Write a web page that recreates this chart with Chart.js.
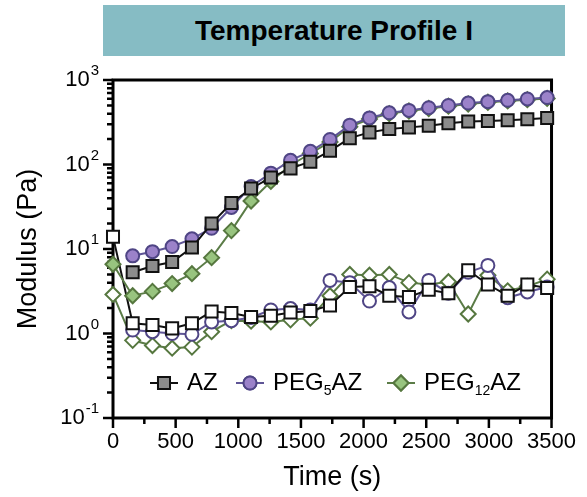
<!DOCTYPE html>
<html>
<head>
<meta charset="utf-8">
<script src="https://cdn.jsdelivr.net/npm/chart.js@4.4.1/dist/chart.umd.min.js"></script>
<style>
  body { margin: 0; background: #fff; }
  #wrap { position: relative; width: 587px; height: 497px; }
  #banner {
    position: absolute; left: 103px; top: 5px; width: 462px; height: 51px;
    background: #86bcc4; color: #000;
    font: bold 28px 'Liberation Sans', Arial, sans-serif;
    display: flex; align-items: center; justify-content: center;
  }
  canvas { position: absolute; left: 0; top: 0; }
</style>
</head>
<body>
<div id="wrap">
  <canvas id="chart" width="587" height="497"></canvas>
  <div id="banner">Temperature Profile I</div>
</div>
<script>
// time points (s)
const times = [0, 157, 315, 472, 630, 787, 945, 1102, 1260, 1417, 1575, 1732,
  1890, 2047, 2205, 2362, 2520, 2677, 2835, 2992, 3150, 3307, 3465];

// storage modulus G' (filled markers)
const azStorage = [null, 5.3, 6.3, 7.0, 10.4, 20, 35, 52, 70, 90, 108, 145,
  205, 240, 263, 275, 288, 308, 322, 328, 334, 344, 356];
const peg5Storage = [null, 8.3, 9.3, 10.7, 13.2, 17.6, 31, 55, 79, 112, 143, 198,
  292, 356, 409, 437, 470, 500, 534, 554, 575, 597, 620];
const peg12Storage = [6.6, 2.8, 3.15, 3.9, 5.1, 7.9, 16.5, 37, 63, 98, 135, 185,
  280, 345, 400, 430, 460, 490, 520, 545, 565, 585, 605];

// loss modulus G'' (open markers)
const azLoss = [14, 1.32, 1.26, 1.15, 1.32, 1.82, 1.75, 1.57, 1.62, 1.77, 1.85, 2.15,
  3.55, 3.62, 2.8, 2.7, 3.3, 3.0, 5.6, 3.8, 2.8, 3.8, 3.45];
const peg5Loss = [null, 1.1, 1.05, 1.0, 0.98, 1.37, 1.42, 1.55, 1.9, 1.97, 1.9, 4.25,
  4.0, 2.42, 3.5, 1.8, 4.25, 3.0, 5.3, 6.4, 2.65, 3.1, 3.55];
const peg12Loss = [2.9, 0.83, 0.72, 0.67, 0.69, 1.05, 1.42, 1.4, 1.37, 1.45, 1.52, 2.8,
  5.0, 4.9, 5.0, 4.0, 3.8, 4.1, 1.7, 4.9, 3.2, 3.6, 4.4];

const seriesNames = ['AZ', 'PEG₅AZ', 'PEG₁₂AZ'];
const legendLabels = [['AZ'], ['PEG', '5', 'AZ'], ['PEG', '12', 'AZ']];
const xTicks = [0, 500, 1000, 1500, 2000, 2500, 3000, 3500];
const yDecades = [0.1, 1, 10, 100, 1000];
const yExponents = ['-1', '0', '1', '2', '3'];

const FONT = "'Liberation Sans', Arial, sans-serif";
Chart.defaults.font.family = FONT;
Chart.defaults.color = '#000';

const styles = [
  { fill: '#8c8c8c', edge: '#111111', line: '#111111', point: 'rect', radius: 8.5 },
  { fill: '#9b82c9', edge: '#4f4585', line: '#5f5596', point: 'circle', radius: 6.5 },
  { fill: '#98c47f', edge: '#56773f', line: '#5b7c47', point: 'rectRot', radius: 7.5 }
];

function toPoints(vals) {
  return times.map((t, i) => ({ x: t, y: vals[i] }));
}

function makeSet(name, vals, st, open, order) {
  return {
    label: name,
    data: toPoints(vals),
    borderColor: st.line,
    borderWidth: 2,
    pointStyle: st.point,
    pointRadius: st.radius,
    pointBorderWidth: 2,
    pointBorderColor: st.edge,
    pointBackgroundColor: open ? '#ffffff' : st.fill,
    fill: false,
    tension: 0,
    clip: false,
    order: order
  };
}

const datasets = [
  makeSet(seriesNames[0], azStorage, styles[0], false, 1),
  makeSet(seriesNames[1], peg5Storage, styles[1], false, 2),
  makeSet(seriesNames[2], peg12Storage, styles[2], false, 3),
  makeSet(seriesNames[0] + ' G″', azLoss, styles[0], true, 4),
  makeSet(seriesNames[1] + ' G″', peg5Loss, styles[1], true, 5),
  makeSet(seriesNames[2] + ' G″', peg12Loss, styles[2], true, 6)
];

// frame, tick marks, y labels with exponents, legend
const axisDecor = {
  id: 'axisDecor',
  beforeDatasetsDraw(chart) {
    const { ctx, chartArea: a, scales: { x, y } } = chart;
    ctx.save();
    ctx.strokeStyle = '#000';
    ctx.lineWidth = 3;
    ctx.strokeRect(a.left, a.top, a.right - a.left, a.bottom - a.top);

    ctx.lineWidth = 2.5;
    ctx.beginPath();
    for (let v = 0; v <= 3500; v += 250) {
      const px = x.getPixelForValue(v);
      const len = v % 500 === 0 ? 10 : 6;
      ctx.moveTo(px, a.bottom);
      ctx.lineTo(px, a.bottom + len);
    }
    yDecades.forEach((d, k) => {
      const py = y.getPixelForValue(d);
      ctx.moveTo(a.left, py);
      ctx.lineTo(a.left - 10, py);
      if (k < yDecades.length - 1) {
        for (let m = 2; m <= 9; m++) {
          const pm = y.getPixelForValue(d * m);
          ctx.moveTo(a.left, pm);
          ctx.lineTo(a.left - 6, pm);
        }
      }
    });
    ctx.stroke();

    // y tick labels 10^n
    ctx.fillStyle = '#000';
    ctx.textBaseline = 'middle';
    yDecades.forEach((d, k) => {
      const py = y.getPixelForValue(d);
      ctx.font = '15px ' + FONT;
      const ew = ctx.measureText(yExponents[k]).width;
      const right = a.left - 14;
      ctx.textAlign = 'left';
      ctx.fillText(yExponents[k], right - ew, py - 9);
      ctx.font = '22px ' + FONT;
      ctx.textAlign = 'right';
      ctx.fillText('10', right - ew - 1, py);
    });
    ctx.restore();
  },
  afterDatasetsDraw(chart) {
    const { ctx } = chart;
    const starts = [150, 236, 387];
    const ly = 383;
    ctx.save();
    legendLabels.forEach((parts, i) => {
      const ds = chart.data.datasets[i];
      const x0 = starts[i];
      const len = 28;
      ctx.strokeStyle = ds.borderColor;
      ctx.lineWidth = 2;
      ctx.beginPath();
      ctx.moveTo(x0, ly);
      ctx.lineTo(x0 + len, ly);
      ctx.stroke();
      ctx.fillStyle = ds.pointBackgroundColor;
      ctx.strokeStyle = ds.pointBorderColor;
      ctx.lineWidth = ds.pointBorderWidth;
      Chart.helpers.drawPoint(ctx, { pointStyle: ds.pointStyle, radius: ds.pointRadius, borderWidth: 2, rotation: 0 }, x0 + len / 2, ly);
      ctx.fill();
      ctx.stroke();

      let tx = x0 + len + 9;
      ctx.fillStyle = '#000';
      ctx.textAlign = 'left';
      ctx.textBaseline = 'middle';
      parts.forEach((p, j) => {
        const sub = j === 1;
        ctx.font = (sub ? '14px ' : '24px ') + FONT;
        ctx.fillText(p, tx, sub ? ly + 8 : ly);
        tx += ctx.measureText(p).width;
      });
    });
    ctx.restore();
  }
};

new Chart(document.getElementById('chart'), {
  type: 'line',
  data: { datasets: datasets },
  options: {
    responsive: false,
    animation: false,
    layout: { padding: { top: 80, right: 30, left: 0, bottom: 0 } },
    plugins: { legend: { display: false }, tooltip: { enabled: false } },
    scales: {
      x: {
        type: 'linear',
        min: 0,
        max: 3500,
        afterBuildTicks(scale) { scale.ticks = xTicks.map(v => ({ value: v })); },
        ticks: {
          color: '#000', font: { size: 22 }, padding: 11, maxRotation: 0, autoSkip: false,
          callback: v => String(v)
        },
        grid: { display: false, drawTicks: false },
        border: { display: false },
        title: { display: true, text: 'Time (s)', color: '#000', font: { size: 27 }, padding: { top: 0, bottom: 3 } },
        afterFit(scale) { scale.height = 79; }
      },
      y: {
        type: 'logarithmic',
        min: 0.1,
        max: 1000,
        ticks: { display: false },
        grid: { display: false, drawTicks: false },
        border: { display: false },
        title: { display: true, text: 'Modulus (Pa)', color: '#000', font: { size: 27 }, padding: { top: 12, bottom: 0 } },
        afterFit(scale) { scale.width = 113; }
      }
    }
  },
  plugins: [axisDecor]
});
</script>
</body>
</html>
